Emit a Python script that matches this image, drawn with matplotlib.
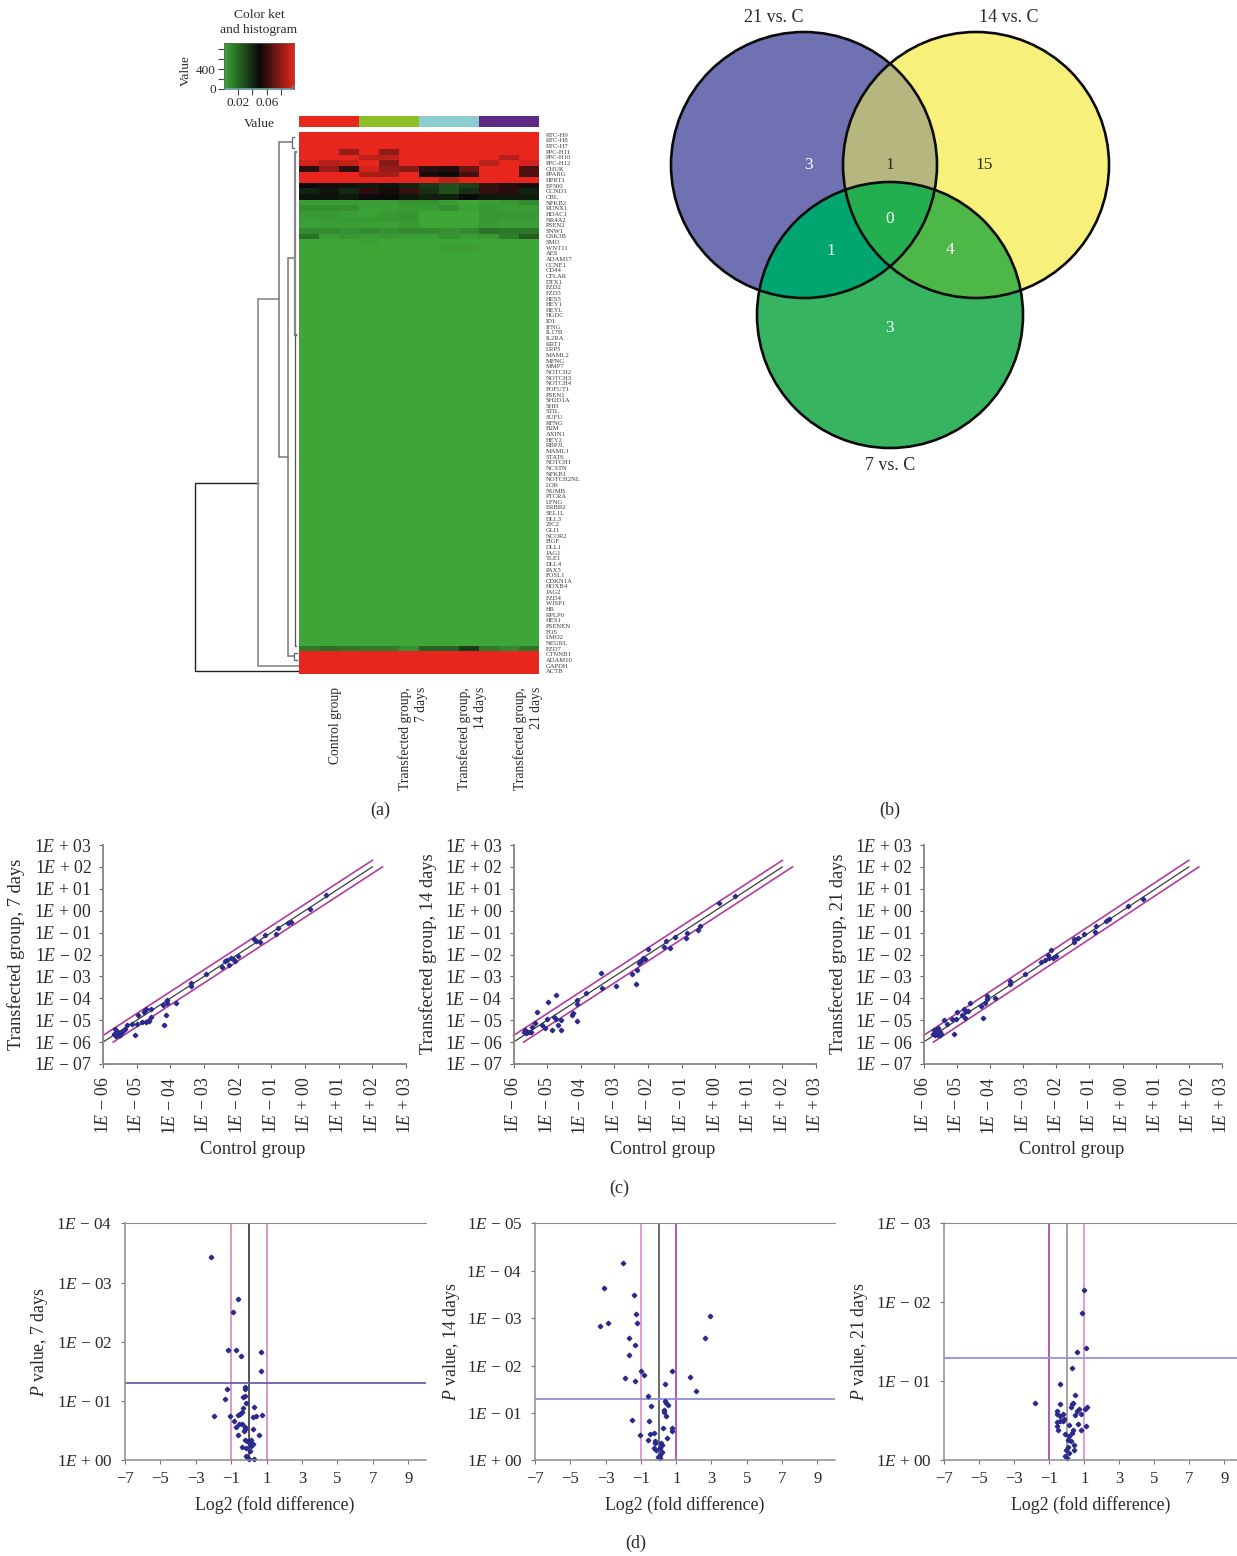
import numpy as np
import matplotlib
matplotlib.use("Agg")
import matplotlib.pyplot as plt
from matplotlib.colors import LinearSegmentedColormap, ListedColormap
from matplotlib.patches import Circle, Polygon

plt.rcParams['font.family'] = ['Liberation Serif', 'DejaVu Serif']
plt.rcParams['mathtext.fontset'] = 'custom'
plt.rcParams['mathtext.rm'] = 'Liberation Serif'
plt.rcParams['mathtext.it'] = 'Liberation Serif:italic'
plt.rcParams['mathtext.bf'] = 'Liberation Serif:bold'

W, H = 1237, 1556
TXT = '#2a2a2a'

# ---------- (a) heat map data ----------
GENES = ["RTC-H9","RTC-H8","RTC-H7","PPC-H11","PPC-H10","PPC-H12","CHUK","PPARG","HPRT1","EP300","CCND1","CBL",
 "NFKB2","RUNX1","HDAC1","NR4A2","PSEN2","SNW1","GSK3B","SMO","WNT11","AES","ADAM17","CCNE1","CD44","CFLAR",
 "DTX1","FZD2","FZD3","HES5","HEY1","HEYL","HGDC","ID1","IFNG","IL17B","IL2RA","KRT1","LRP5","MAML2","MFNG",
 "MMP7","NOTCH2","NOTCH3","NOTCH4","POFUT1","PSEN1","SH2D1A","SHH","STIL","SUFU","RFNG","B2M","AXIN1","HEY2",
 "RBPJL","MAML1","STAT6","NOTCH1","NCSTN","NFKB1","NOTCH2NL","LOR","NUMB","PTCRA","LFNG","ERBB2","SEL1L","DLL3",
 "ZIC2","GLI1","NCOR2","FIGF","DLL1","JAG1","TLE1","DLL4","PAX5","FOSL1","CDKN1A","HOXB4","JAG2","FZD4","WISP1",
 "HR","RPLP0","HES1","PSENEN","FOS","LMO2","NEURL","FZD7","CTNNB1","ADAM10","GAPDH","ACTB"]
HEAT_TOP = [
 [1,1,1,1,1,1,1,1,1,1,1,1],
 [1,1,1,1,1,1,1,1,1,1,1,1],
 [1,1,1,1,1,1,1,1,1,1,1,1],
 [1,1,.82,1,.8,1,1,1,1,1,1,1],
 [1,1,1,.9,.9,1,1,1,1,1,.88,1],
 [.95,.88,.92,1,.78,1,1,1,1,.9,1,.95],
 [.58,.82,.58,.95,.82,.78,.58,.55,.72,1,1,.65],
 [1,1,1,.85,.85,1,.53,.5,.62,1,1,.65],
 [1,1,1,1,1,1,1,.9,1,1,1,1],
 [.5,.52,.47,.45,.47,.42,.35,.28,.33,.6,.56,.52],
 [.42,.47,.4,.57,.52,.6,.38,.28,.38,.6,.57,.42],
 [.47,.47,.45,.5,.5,.45,.43,.43,.5,.45,.45,.45],
 [.03,.03,.03,.03,.03,.07,.07,.03,0,.03,.05,.09],
 [.08,.08,.08,.02,.02,.04,.04,.08,.02,.04,.03,.03],
 [.04,.04,.03,.02,.04,.06,0,0,0,.05,.05,.05],
 [.03,.04,.04,.04,.04,.06,0,0,.01,.05,.04,.04],
 [.02,.03,.03,.02,.02,.04,0,0,0,.04,.03,.03],
 [.09,.09,.07,.09,.07,.09,.09,.07,.09,.17,.15,.15],
 [.17,.03,.05,.03,.04,.02,.02,.07,.03,.04,.13,.24],
 [0,0,0,.02,0,0,0,0,0,0,0,0],
 [0,0,0,0,0,0,0,.03,.03,0,0,0],
]
HEAT_FLAT = [0,0,0,0,0,0,0,0,0,0,0,0]
HEAT_FZD7 = [.14,.18,.16,.14,.14,.07,.22,.22,.34,.14,.1,.16]
HEAT_RED = [1,1,1,1,1,1,1,1,1,1,1,1]
N_FLAT_ROWS = 70
N_RED_ROWS = 4
GROUP_COLORS = ['#E8261E', '#8CC028', '#8CCDD0', '#5E2A86']
GROUP_LABELS = ["Control group", "Transfected group,\n7 days", "Transfected group,\n14 days", "Transfected group,\n21 days"]
GROUP_LABEL_X = [335, 413, 472, 528]
# height, top row, bottom row, top child height, bottom child height, colour, width
DENDRO = [
 (104, 62.2, 95.5, 41, 0.5, '#222222', 1.0),
 (41, 29.6, 94.6, 20, 0.5, '#8a8a8a', 1.2),
 (20, 1.8, 57.6, 7, 11, '#777777', 1.1),
 (11, 22.4, 92.8, 4.5, 5, '#777777', 1.1),
 (7, 0.8, 2.8, 5, 5, '#666666', 0.9),
 (4.5, 3.5, 36, 3, 3, '#888888', 1.6),
 (4.5, 36, 91, 3, 3, '#555555', 0.9),
 (5, 92.2, 93.6, 2, 2, '#666666', 0.9),
]
KEY_TICKS_Y = [0, 200, 400, 600, 800]
KEY_LABELS_Y = ['0', '', '400', '', '']
KEY_TICKS_X = [0.02, 0.04, 0.06, 0.08]
KEY_LABELS_X = ['0.02', '', '0.06', '']
KEY_HIST_X = [0, 0.002, 0.006, 0.02, 0.05, 0.09, 0.096, 0.0985]
KEY_HIST_Y = [20, 14, 8, 6, 6, 6, 60, 60]

# ---------- (b) Venn data ----------
VENN_NAMES = ["21 vs. C", "14 vs. C", "7 vs. C"]
VENN_ONLY = [3, 15, 3]
VENN_AB, VENN_AC, VENN_BC, VENN_ABC = 1, 1, 4, 0

# ---------- (c) scatter data, log10 expression ----------
C7_X = [-5.63,-5.66,-5.63,-5.58,-5.53,-5.49,-5.56,-5.60,-5.50,-5.44,-5.34,-5.29,-5.14,-5.06,-4.99,-4.97,-4.84,-4.79,-4.74,-4.71,-4.73,-4.64,-4.57,-4.57,-4.23,-4.20,-4.13,-4.10,-4.10,-3.83,-3.40,-3.39,-2.95,-2.47,-2.37,-2.32,-2.27,-2.20,-2.14,-2.09,-1.99,-1.50,-1.46,-1.35,-1.18,-0.86,-0.81,-0.50,-0.42,0.14,0.61]
C7_Y = [-5.41,-5.64,-5.69,-5.61,-5.69,-5.57,-5.54,-5.73,-5.66,-5.54,-5.41,-5.20,-5.19,-5.69,-5.16,-4.77,-5.08,-4.62,-4.55,-4.47,-5.08,-5.05,-4.85,-4.50,-4.29,-5.23,-4.76,-4.09,-4.20,-4.21,-3.30,-3.43,-2.90,-2.58,-2.30,-2.26,-2.49,-2.15,-2.21,-2.30,-2.05,-1.27,-1.39,-1.42,-1.09,-1.05,-0.80,-0.54,-0.51,0.10,0.70]
C14_X = [-5.66,-5.69,-5.63,-5.59,-5.54,-5.48,-5.46,-5.35,-5.29,-5.15,-5.07,-5.01,-4.97,-4.84,-4.79,-4.74,-4.74,-4.67,-4.59,-4.59,-4.25,-4.22,-4.12,-4.12,-4.10,-3.83,-3.40,-3.38,-2.96,-2.47,-2.37,-2.34,-2.26,-2.22,-2.16,-2.10,-2.00,-1.51,-1.47,-1.35,-1.20,-0.88,-0.83,-0.51,-0.44,0.12,0.60]
C14_Y = [-5.46,-5.54,-5.57,-5.54,-5.54,-5.54,-5.32,-5.13,-4.64,-5.20,-5.35,-4.96,-4.16,-5.46,-4.85,-3.83,-4.96,-5.23,-5.00,-5.43,-4.74,-4.65,-5.03,-4.24,-4.09,-3.77,-2.84,-3.55,-3.45,-2.87,-3.34,-2.72,-2.41,-2.30,-2.15,-2.21,-1.76,-1.65,-1.39,-1.70,-1.18,-1.25,-1.02,-0.87,-0.70,0.33,0.68]
C21_X = [-5.60,-5.65,-5.70,-5.65,-5.57,-5.50,-5.50,-5.55,-5.67,-5.47,-5.37,-5.30,-5.14,-5.07,-5.01,-4.98,-4.84,-4.79,-4.74,-4.74,-4.66,-4.59,-4.27,-4.20,-4.14,-4.10,-4.10,-3.84,-3.40,-3.38,-2.95,-2.45,-2.33,-2.25,-2.21,-2.15,-2.11,-1.99,-1.47,-1.46,-1.34,-1.17,-0.84,-0.80,-0.50,-0.40,0.17,0.63]
C21_Y = [-5.41,-5.54,-5.61,-5.69,-5.66,-5.69,-5.54,-5.35,-5.43,-5.61,-4.97,-5.17,-4.94,-5.61,-4.96,-4.62,-4.77,-4.50,-4.90,-4.59,-4.56,-4.23,-4.33,-4.91,-4.20,-3.91,-4.01,-3.98,-3.19,-3.36,-2.90,-2.35,-2.27,-2.00,-2.15,-1.80,-2.18,-2.05,-1.42,-1.30,-1.24,-1.05,-0.96,-0.69,-0.48,-0.40,0.20,0.55]
C_TICK_EXP = ["06","05","04","03","02","01","00","01","02","03"]
FOLD = 2
C_LINE_X = [1e-6, 1e2]

# ---------- (d) volcano data ----------
D7_X = [-2.14,-.63,-.91,-1.21,-.73,.67,-.46,.69,-.24,-.24,-1.25,-.22,-.33,-1.35,-.18,-.33,.31,-.40,-.48,-.61,-1.97,-1.05,.74,.42,.25,-.86,-.56,-.37,-.71,-.20,-.25,.24,-.27,-.59,.57,-.22,.12,-.10,.08,.22,-.37,-.14,.12,.08,-.18,-.10,-.01,.29]
D7_Y = [3.43,2.73,2.50,1.86,1.86,1.83,1.76,1.50,1.24,1.20,1.20,1.09,1.06,1.03,.96,.89,.90,.82,.78,.76,.75,.75,.76,.74,.73,.66,.61,.61,.57,.57,.53,.52,.50,.43,.43,.34,.35,.32,.27,.27,.23,.20,.24,.15,.08,.05,.03,.02]
D14_X = [-2.04,-3.08,-1.40,-1.25,2.93,-2.85,-1.20,-3.29,2.61,-1.65,-1.35,-1.70,-1.01,.78,-.80,1.80,-1.89,-1.35,.37,2.10,-.57,.35,.52,.42,-.44,.33,.29,.44,-1.52,-.54,.24,.78,.78,-.25,-.48,-1.05,.50,-.57,-.20,.14,-.20,.18,-.25,.08,-.14,.18,.08,-.05,.08]
D14_Y = [4.16,3.64,3.49,3.08,3.05,2.90,2.90,2.83,2.59,2.59,2.43,2.22,1.89,1.88,1.79,1.75,1.73,1.67,1.62,1.46,1.36,1.25,1.17,1.20,1.15,1.06,1.01,.94,.86,.82,.68,.69,.62,.57,.55,.53,.46,.43,.41,.37,.36,.33,.27,.27,.22,.18,.11,.07,.04]
D21_X = [1.0,.87,1.11,.58,.31,-.37,.45,-1.84,-.39,.37,.28,.24,1.15,1.06,-.58,-.54,.69,.56,.81,.45,-.24,-.39,-.16,-.39,-.58,-.24,-.54,.14,.66,1.08,-.50,.37,.28,.79,-.10,.14,.05,.22,.43,.09,.39,-.05,.10,-.09,0]
D21_Y = [2.15,1.87,1.42,1.37,1.17,.97,.83,.73,.71,.72,.71,.68,.67,.65,.63,.59,.65,.62,.59,.57,.59,.56,.52,.50,.49,.50,.43,.45,.46,.43,.38,.38,.35,.38,.33,.31,.26,.24,.19,.17,.13,.13,.09,.06,.03]
D_X_TICKS = [-7,-5,-3,-1,1,3,5,7,9]
D_SIG = 1.301
D_FOLD_LIM = [-1, 1]

fig = plt.figure(figsize=(W/100, H/100), dpi=100, facecolor='white')

def ax_px(l, t, r, b, **kw):
    return fig.add_axes([l/W, 1-b/H, (r-l)/W, (b-t)/H], **kw)

def txt(x, y, s, **kw):
    kw.setdefault('ha', 'center')
    kw.setdefault('va', 'center')
    kw.setdefault('color', TXT)
    kw.setdefault('fontsize', 13)
    fig.text(x/W, 1-y/H, s, **kw)

# ---- (a)
heat_cmap = LinearSegmentedColormap.from_list('gbr', ['#3DA637', '#0A0A0A', '#E8261E'])
heat = np.array(HEAT_TOP + [HEAT_FLAT]*N_FLAT_ROWS + [HEAT_FZD7] + [HEAT_RED]*N_RED_ROWS)
ax = ax_px(299, 132, 539, 674)
ax.pcolormesh(heat, cmap=heat_cmap, vmin=0, vmax=1)
ax.set_ylim(len(GENES), 0)
ax.set_yticks(np.arange(len(GENES))+0.5, GENES, fontsize=4.8, color='#3a3a3a')
ax.yaxis.tick_right()
ax.tick_params(axis='y', length=0, pad=5)
ax.set_xticks([])
for s in ax.spines.values():
    s.set_visible(False)

ax = ax_px(299, 116, 539, 127)
ax.pcolormesh([[0, 0, 0, 1, 1, 1, 2, 2, 2, 3, 3, 3]], cmap=ListedColormap(GROUP_COLORS), vmin=0, vmax=3)
ax.axis('off')

for xp, lab in zip(GROUP_LABEL_X, GROUP_LABELS):
    txt(xp, 687, lab, rotation=90, va='top', multialignment='right', fontsize=9.8, linespacing=1.34)

ax = ax_px(190, 132, 299, 674)
for h, r1, r2, c1, c2, col, lw in DENDRO:
    ax.plot([c1, h, h, c2], [r1, r1, r2, r2], color=col, lw=lw, solid_joinstyle='miter')
ax.set_xlim(109, 0)
ax.set_ylim(96, 0)
ax.axis('off')

ax = ax_px(224, 43, 294, 88.7)
key_cmap = LinearSegmentedColormap.from_list('key', ['#3DA637', '#0A0A0A', '#E8261E'])
ax.imshow(np.linspace(0, 1, 256)[None, :], aspect='auto', cmap=key_cmap, extent=(0, .0985, 0, 928))
ax.step(KEY_HIST_X, KEY_HIST_Y, color='#45b8c8', lw=0.6, where='post')
ax.set_xlim(0, .0985)
ax.set_ylim(0, 928)
ax.set_xticks(KEY_TICKS_X, KEY_LABELS_X, fontsize=9.5, color=TXT)
ax.set_yticks(KEY_TICKS_Y, KEY_LABELS_Y, fontsize=9.5, color=TXT)
ax.tick_params(length=4, width=0.8, color='#444444', pad=2)
for s in ax.spines.values():
    s.set_color('#666666')
    s.set_linewidth(0.5)
txt(259, 22.5, "Color ket\nand histogram", fontsize=9.7, linespacing=1.35)
txt(259, 124, "Value", fontsize=9.7)
txt(186, 71, "Value", rotation=90, fontsize=9.7)
txt(380, 810, "(a)")

# ---- (b)
ax = ax_px(660, 20, 1120, 460)
ax.set_xlim(660, 1120)
ax.set_ylim(460, 20)
ax.axis('off')
CENTERS = {'A': (804, 165), 'B': (976, 165), 'C': (890, 315)}
R = 133

def region(keys):
    pts = []
    for k in keys:
        cx, cy = CENTERS[k]
        t = np.linspace(0, 2*np.pi, 1440, endpoint=False)
        p = np.c_[cx + R*np.cos(t), cy + R*np.sin(t)]
        ok = np.ones(len(p), bool)
        for o in keys:
            if o != k:
                ok &= np.hypot(p[:, 0]-CENTERS[o][0], p[:, 1]-CENTERS[o][1]) <= R
        pts.append(p[ok])
    pts = np.vstack(pts)
    c = pts.mean(0)
    return pts[np.argsort(np.arctan2(pts[:, 1]-c[1], pts[:, 0]-c[0]))]

for k, col in zip('ABC', ['#6F71B3', '#F7F17B', '#36B45F']):
    ax.add_patch(Circle(CENTERS[k], R, fc=col, ec='none'))
for keys, col in [('AB', '#B5B77F'), ('AC', '#00A56F'), ('BC', '#4DB748'), ('ABC', '#23AE4F')]:
    ax.add_patch(Polygon(region(keys), fc=col, ec='none'))
for k in 'ABC':
    ax.add_patch(Circle(CENTERS[k], R, fc='none', ec='#0a0a0a', lw=1.9))
for (x, y), v, c in [((808, 165), VENN_ONLY[0], 'white'), ((984, 165), VENN_ONLY[1], TXT),
                     ((889, 328), VENN_ONLY[2], 'white'), ((890, 165), VENN_AB, TXT),
                     ((831, 251), VENN_AC, 'white'), ((950, 250), VENN_BC, 'white'),
                     ((890, 219), VENN_ABC, 'white')]:
    ax.text(x, y, str(v), color=c, ha='center', va='center', fontsize=12.5)
txt(774, 18, VENN_NAMES[0])
txt(1009, 18, VENN_NAMES[1])
txt(890, 466, VENN_NAMES[2])
txt(890, 810, "(b)")

# ---- (c)
def style(ax, lw=1.4, col='#8c8c8c', top=False):
    for name, s in ax.spines.items():
        s.set_color(col)
        s.set_linewidth(lw)
    ax.spines['right'].set_visible(False)
    ax.spines['top'].set_visible(top)
    ax.patch.set_alpha(0)

def c_label(exp, sign):
    return "1$\\mathit{E}$ %s %s" % (sign, exp)

Y_TICK_LABELS = [c_label("03", "+"), c_label("02", "+"), c_label("01", "+"), c_label("00", "+"),
                 c_label("01", "\u2212"), c_label("02", "\u2212"), c_label("03", "\u2212"),
                 c_label("04", "\u2212"), c_label("05", "\u2212"), c_label("06", "\u2212"), c_label("07", "\u2212")]
X_TICK_LABELS = [c_label(e, "\u2212") for e in C_TICK_EXP[:6]] + [c_label("00", "+")] + [c_label(e, "+") for e in C_TICK_EXP[7:]]

panels = [((103, 845, 406, 1064), C7_X, C7_Y, "Transfected group, 7 days", 16, 253),
          ((513.5, 845, 816, 1064), C14_X, C14_Y, "Transfected group, 14 days", 428, 663),
          ((923.5, 845, 1222, 1064), C21_X, C21_Y, "Transfected group, 21 days", 838, 1072)]
for rect, xs, ys, lab, ylx, xlx in panels:
    ax = ax_px(*rect)
    ax.set_xscale('log')
    ax.set_yscale('log')
    lx = np.array(C_LINE_X)
    ax.plot(lx, lx, color='#3c3c3c', lw=0.9, clip_on=False)
    ax.plot(lx, lx*FOLD, color='#B23C9E', lw=1.2, clip_on=False)
    ax.plot(lx*FOLD, lx, color='#B23C9E', lw=1.2, clip_on=False)
    ax.plot(10.0**np.array(xs), 10.0**np.array(ys), ls='none', marker='D', ms=2.3, color='#2A2A8C', mec='#2A2A8C', clip_on=False)
    ax.set_xlim(1e-6, 1e3)
    ax.set_ylim(1e-7, 1e3)
    ax.set_xticks(10.0**np.arange(-6, 4), X_TICK_LABELS, rotation=90, fontsize=12.8, color=TXT)
    ax.set_yticks(10.0**np.arange(3, -8, -1), Y_TICK_LABELS, fontsize=12.8, color=TXT)
    ax.minorticks_off()
    ax.tick_params(length=3, width=0.8, color='#666666', pad=5)
    ax.tick_params(axis='x', pad=6)
    style(ax)
    txt(ylx, 954, lab, rotation=90, fontsize=13.3)
    txt(xlx, 1150, "Control group", fontsize=13.4)
txt(619, 1188, "(c)")

# ---- (d)
def exp_labels(top):
    out = []
    for e in range(top, 0, -1):
        out.append(c_label("%02d" % e, "\u2212"))
    out.append(c_label("00", "+"))
    return out

d_panels = [((125, 1223.3, 426, 1460.3), (-7, 10), D7_X, D7_Y, 4, "$\\mathit{P}$ value, 7 days", 40, 275, '#6A5FA8', '#D88EC5', '#D88EC5', '#222222'),
            ((535, 1223.3, 835, 1460.3), (-7, 10), D14_X, D14_Y, 5, "$\\mathit{P}$ value, 14 days", 451, 685, '#8F8FD6', '#DE96CF', '#B24AA8', '#444444'),
            ((944.3, 1223.3, 1237, 1460.3), (-7, 9.72), D21_X, D21_Y, 3, "$\\mathit{P}$ value, 21 days", 860, 1091, '#9393DA', '#B24AA8', '#DE96CF', '#8a8a8a')]
for rect, xs_lim, xs, ys, top, lab, ylx, xlx, hcol, lcol, rcol, ccol in d_panels:
    ax = ax_px(*rect)
    ax.axvline(D_FOLD_LIM[0], color=lcol, lw=1.3)
    ax.axvline(D_FOLD_LIM[1], color=rcol, lw=1.3)
    ax.axvline(0, color=ccol, lw=1.1)
    ax.axhline(D_SIG, color=hcol, lw=1.3)
    ax.plot(xs, ys, ls='none', marker='D', ms=2.3, color='#2A2A8C', mec='#2A2A8C', clip_on=False)
    ax.set_xlim(*xs_lim)
    ax.set_ylim(0, top)
    ax.set_xticks(D_X_TICKS, [str(v).replace('-', '\u2212') for v in D_X_TICKS], fontsize=12, color=TXT)
    ax.set_yticks(range(top, -1, -1), exp_labels(top), fontsize=12.3, color=TXT)
    ax.tick_params(length=3, width=0.8, color='#777777', pad=6)
    ax.tick_params(axis='x', pad=5)
    style(ax, lw=1.1, col='#8c8c8c', top=True)
    ax.spines['top'].set_linewidth(0.8)
    txt(ylx, 1342, lab, rotation=90, fontsize=12.8)
    txt(xlx, 1505, "Log2 (fold difference)", fontsize=12.9)
txt(636, 1543, "(d)")

fig.savefig("out.png", dpi=100, facecolor='white')
